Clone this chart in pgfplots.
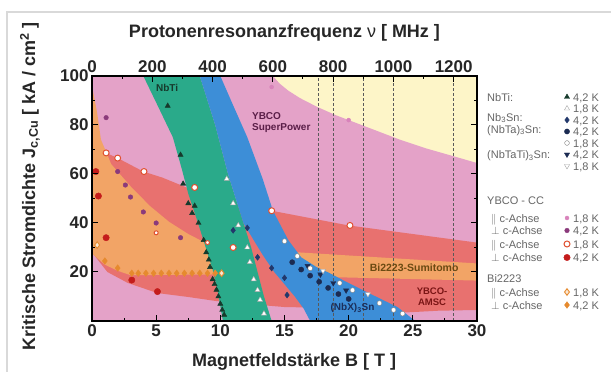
\documentclass[border=0pt]{standalone}
\usepackage{pgfplots}
\pgfplotsset{compat=1.18}
\usepackage{fontspec}
\setmainfont{Liberation Sans}
\definecolor{bgyellow}{HTML}{FDF5C8}
\definecolor{ybpink}{HTML}{E4A2C8}
\definecolor{ybred}{HTML}{E8716F}
\definecolor{biorange}{HTML}{F2A466}
\definecolor{nbtigreen}{HTML}{2AAA8A}
\definecolor{nbsnblue}{HTML}{3D8ED7}
\definecolor{cnbti}{HTML}{163A2C}
\definecolor{cnbsn}{HTML}{22386B}
\definecolor{cnbta}{HTML}{1B2B52}
\definecolor{cpink}{HTML}{D983BB}
\definecolor{cpurple}{HTML}{8B3A7B}
\definecolor{cred}{HTML}{C41C1C}
\definecolor{copen}{HTML}{E05030}
\definecolor{cbi}{HTML}{E68A2E}
\definecolor{txt}{HTML}{262626}
\definecolor{lblsp}{HTML}{5A1E48}
\definecolor{lblbi}{HTML}{6B4A12}
\definecolor{lblam}{HTML}{7A1515}
\definecolor{lblnb}{HTML}{1B2E5A}
\newcommand{\tickfont}{\fontsize{17}{17}\selectfont\bfseries}
\newcommand{\titlefont}{\fontsize{18}{18}\selectfont\bfseries}
\pgfplotsset{
  mNbTiA/.style={only marks, mark=triangle*, mark size=3pt, mark options={fill=cnbti, draw=cnbti}},
  mNbTiB/.style={only marks, mark=triangle*, mark size=3pt, mark options={fill=white, draw=black!35}},
  mNbSn/.style={only marks, mark=diamond*, mark size=3pt, mark options={fill=cnbsn, draw=cnbsn}},
  mNbTaA/.style={only marks, mark=*, mark size=2.6pt, mark options={fill=cnbta, draw=cnbta}},
  mNbTaB/.style={only marks, mark=*, mark size=2.4pt, mark options={fill=white, draw=black!50}},
  mNbTaTiA/.style={only marks, mark=triangle*, mark size=3pt, mark options={rotate=180, fill=cnbta, draw=cnbta}},
  mNbTaTiB/.style={only marks, mark=triangle*, mark size=3pt, mark options={rotate=180, fill=white, draw=black!35}},
  mYpink/.style={only marks, mark=*, mark size=2pt, mark options={fill=cpink, draw=cpink}},
  mYpurple/.style={only marks, mark=*, mark size=2.3pt, mark options={fill=cpurple, draw=cpurple}},
  mYopen/.style={only marks, mark=*, mark size=3pt, mark options={fill=white, draw=copen, line width=1pt}},
  mYred/.style={only marks, mark=*, mark size=3.2pt, mark options={fill=cred, draw=cred}},
  mBopen/.style={only marks, mark=diamond*, mark size=3.3pt, mark options={fill=white!80!cbi, draw=cbi, line width=0.9pt}},
  mBfill/.style={only marks, mark=diamond*, mark size=3.3pt, mark options={fill=cbi, draw=cbi}},
}
\begin{document}
\begin{tikzpicture}
\useasboundingbox (0,0) rectangle (611pt,372pt);
\fill[white] (0,0) rectangle (611pt,372pt);
\clip (0,0) rectangle (611pt,372pt);
\draw[black!15, line width=1.5pt] (7pt,-3pt) -- (7pt,360pt) -- (615pt,360pt);

\begin{axis}[
  at={(92pt,51pt)}, anchor=south west, scale only axis,
  width=385pt, height=245pt,
  xmin=0, xmax=30, ymin=0, ymax=100,
  axis background/.style={fill=bgyellow},
  axis on top, clip mode=individual,
  axis line style={line width=1.3pt, black},
  xtick={0,5,...,30}, ytick={20,40,60,80,100},
  minor x tick num=1, minor y tick num=1,
  xtick pos=left, ytick pos=both,
  tick align=inside, major tick length=6pt, minor tick length=3pt,
  every tick/.style={black, line width=1pt},
  /pgf/number format/assume math mode=true,
  ticklabel style={font=\tickfont, text=txt},
  xlabel={Magnetfeldstärke B [ T ]},
  xlabel style={at={(axis description cs:0.525,-0.167)}, anchor=center, font=\titlefont, text=txt},
  ylabel={Kritische Stromdichte J\textsubscript{c,Cu} [ kA / cm\textsuperscript{2} ]},
  ylabel style={at={(axis description cs:-0.161,0.55)}, anchor=center, rotate=0, font=\titlefont, text=txt},
]
% ---- regions ----
\addplot[fill=ybpink, draw=none] coordinates {
 (0,100) (14.1,100) (14.6,97) (15.3,94) (16.2,91) (17.5,87.5) (19,84) (20.5,81) (22,78)
 (24,74) (26,70.5) (28,67.5) (30,64.5) (30,0) (0,0)} -- cycle;
\addplot[fill=ybred, draw=none] coordinates {
 (0,76) (0.7,71) (1.1,68.6) (2,66.5) (4,61) (5.5,58.5) (6.9,55.5) (9,51) (11,48) (14,45)
 (17,42) (20,39) (25,35.5) (30,32) (30,4.5) (27,4.2) (24.5,3.5) (20,4.5) (17,5.5) (15,5.7)
 (12,7) (9.6,8.2) (7.5,9.8) (5.1,11.4) (2.8,15.5) (1.2,20) (0,28)} -- cycle;
\addplot[fill=biorange, draw=none] coordinates {
 (0,96) (0.4,85) (0.7,74) (1.5,64) (3,55) (4.5,47) (6,40.5) (7.5,35.5) (8.8,32) (9.3,27)
 (9.6,22) (9.8,19) (3,18.7) (2,20.5) (1,23) (0,27.5)} -- cycle;
\addplot[fill=biorange, draw=none] coordinates {
 (15.5,28.2) (30,23.5) (30,16.5) (15.5,18.3)} -- cycle;
\addplot[fill=nbtigreen, draw=none] coordinates {
 (4.0,100) (5.2,87) (6.3,75) (7.0,62) (7.5,52) (8.2,41) (8.8,31) (9.4,21) (9.8,12) (10.2,0)
 (14.0,0) (13.4,10) (12.9,20) (12.4,30) (11.8,40) (11.2,50) (10.6,60) (10.1,70) (9.6,80)
 (9.0,90) (8.4,100)} -- cycle;
\addplot[fill=nbsnblue, draw=none] coordinates {
 (8.4,100) (9.0,90) (9.6,80) (10.1,70) (10.6,60) (11.2,50) (11.8,40) (12.6,33) (13.3,27)
 (14.2,20) (15,15) (15.8,10) (16.5,5) (17,0) (25.2,0) (24.8,1.6) (23.8,5.7) (22.5,9)
 (21.1,12.6) (19.8,16) (18.5,19.6) (17.5,22) (16.3,26) (15.3,33) (14.1,45) (13.3,58)
 (12.1,75) (11,88) (10,100)} -- cycle;
% ---- frequency lines (750, 800, 900, 1000, 1200 MHz) ----
\pgfplotsinvokeforeach{17.615,18.789,21.138,23.487,28.184}{
  \addplot[black!65, line width=1pt, dash pattern=on 2.5pt off 2.5pt]
    coordinates {(#1,0) (#1,100)};
}
% ---- data ----
\addplot[mNbTiA] coordinates {
 (5.9,87.8) (6.9,67.8) (7.1,56) (7.5,48) (7.8,44) (8.0,47) (8.3,40) (8.7,33) (8.9,28)
 (9.1,25) (9.2,22) (9.4,17) (9.55,15) (9.7,12.7) (9.85,10) (10.0,7) (10.15,4.5) (10.3,2.5)};
\addplot[mNbTiB] coordinates {
 (10.5,58) (11,48) (11.4,39) (12.1,30) (12.3,24) (12.6,17) (12.9,12.6) (13.1,8.6) (13.4,3)};
\addplot[mNbSn] coordinates {
 (11,37) (12.1,38) (12.9,26) (14,21.6) (15,17.6) (15.2,10.6)};
\addplot[mNbTaA] coordinates {
 (15.6,24) (16.3,21) (17,18.5) (17.7,16) (18.4,13.5) (19.2,11) (20,9)};
\addplot[mNbTaTiA] coordinates {
 (16.8,22.5) (17.8,19) (18.8,15.5) (19.8,12.5)};
\addplot[mNbTaB] coordinates {
 (15,32.6) (16,26.5) (17,21.5) (19.3,15.5) (20.3,12.6) (22.4,7.3) (23.5,4.5) (24.2,3)};
\addplot[mNbTaTiB] coordinates {(18,20.5) (21.5,11)};
\addplot[mYpink] coordinates {(14,95.5) (20,82)};
\addplot[mYpurple] coordinates {
 (1.1,83) (2.0,61) (2.6,55.5) (3.0,50.6) (4.0,44.5) (5.0,40) (6.9,34)};
\addplot[mYopen] coordinates {
 (1.1,68.6) (2.0,66.5) (4.05,61) (8.0,54.5) (14,45) (20.1,39) (11,30)};
\addplot[mYopen, mark size=2pt] coordinates {(5,36) (9,32)};
\addplot[mYred] coordinates {(0.3,61) (0.5,51) (1.1,34) (3.1,16.7) (5.1,12)};
\addplot[mBopen] coordinates {(0.4,31) (10.1,19.5)};
\addplot[mBfill] coordinates {
 (1.0,24.5) (2.0,21.6) (3.1,19.5) (3.6,19.5) (4.2,19.5) (4.8,19.5) (5.4,19.5) (6.0,19.5)
 (6.6,19.5) (7.2,19.5) (7.8,19.5) (8.4,19.5) (9.0,19.5) (9.6,19.5)};
% ---- labels in plot ----
\node[font=\fontsize{10}{10}\selectfont\bfseries, text=cnbti] at (axis cs:5.85,95) {NbTi};
\node[font=\fontsize{10}{11}\selectfont\bfseries, text=lblsp, anchor=north west, align=left]
  at (axis cs:12.2,86.5) {YBCO\\SuperPower};
\node[font=\fontsize{10.5}{10.5}\selectfont\bfseries, text=lblbi] at (axis cs:25.1,21.6) {Bi2223-Sumitomo};
\node[font=\fontsize{9.5}{11}\selectfont\bfseries, text=lblam, align=center] at (axis cs:26.5,9.8) {YBCO-\\AMSC};
\node[font=\fontsize{10}{10}\selectfont\bfseries, text=lblnb] at (axis cs:20.3,5.3) {(NbX)\textsubscript{3}Sn};
\end{axis}

\begin{axis}[
  at={(92pt,51pt)}, anchor=south west, scale only axis,
  width=385pt, height=245pt,
  xmin=0, xmax=1277.31, ymin=0, ymax=100,
  axis x line*=top, axis y line=none,
  axis line style={line width=1.3pt, black},
  xtick={0,200,...,1200}, minor x tick num=1,
  tick align=inside, major tick length=6pt, minor tick length=3pt,
  every tick/.style={black, line width=1pt},
  /pgf/number format/assume math mode=true,
  /pgf/number format/1000 sep={},
  ticklabel style={font=\tickfont, text=txt},
  xlabel={Protonenresonanzfrequenz {\mdseries ν} [ MHz ]},
  xlabel style={at={(axis description cs:0.5,1.176)}, anchor=center, font=\titlefont, text=txt},
]
\end{axis}

% ---- legend keys (in a picture-sized axis, pt units) ----
\begin{axis}[
  at={(0pt,0pt)}, anchor=south west, scale only axis,
  width=611pt, height=372pt,
  xmin=0, xmax=611, ymin=0, ymax=372,
  hide axis, clip=false,
]
\addplot[mNbTiA]   coordinates {(567,275)};
\addplot[mNbTiB]   coordinates {(567,263.5)};
\addplot[mNbSn]    coordinates {(567,252)};
\addplot[mNbTaA]   coordinates {(567,240.5)};
\addplot[mNbTaB]   coordinates {(567,229)};
\addplot[mNbTaTiA] coordinates {(567,217.5)};
\addplot[mNbTaTiB] coordinates {(567,206)};
\addplot[mYpink]   coordinates {(567,154)};
\addplot[mYpurple] coordinates {(567,141.5)};
\addplot[mYopen]   coordinates {(567,128)};
\addplot[mYred]    coordinates {(567,114.5)};
\addplot[mBopen]   coordinates {(567,80)};
\addplot[mBfill]   coordinates {(567,67)};
\end{axis}

% ---- legend texts ----
\begin{scope}[every node/.style={anchor=base west, font=\fontsize{11}{11}\selectfont, text=black!60, inner sep=0pt}]
\node at (487pt,270.9pt) {NbTi:};
\node at (487pt,250.9pt) {Nb\textsubscript{3}Sn:};
\node at (487pt,238.9pt) {(NbTa)\textsubscript{3}Sn:};
\node at (487pt,213.4pt) {(NbTaTi)\textsubscript{3}Sn:};
\node at (487pt,167.4pt) {YBCO - CC};
\node at (491pt,149.9pt) {$\parallel$ c-Achse};
\node at (491pt,137.4pt) {$\perp$ c-Achse};
\node at (491pt,123.9pt) {$\parallel$ c-Achse};
\node at (491pt,110.4pt) {$\perp$ c-Achse};
\node at (487pt,89.9pt) {Bi2223};
\node at (491pt,75.9pt) {$\parallel$ c-Achse};
\node at (491pt,62.9pt) {$\perp$ c-Achse};
\node at (573pt,270.9pt) {4,2 K};
\node at (573pt,259.4pt) {1,8 K};
\node at (573pt,247.9pt) {4,2 K};
\node at (573pt,236.4pt) {4,2 K};
\node at (573pt,224.9pt) {1,8 K};
\node at (573pt,213.4pt) {4,2 K};
\node at (573pt,201.9pt) {1,8 K};
\node at (573pt,149.9pt) {1,8 K};
\node at (573pt,137.4pt) {4,2 K};
\node at (573pt,123.9pt) {1,8 K};
\node at (573pt,110.4pt) {4,2 K};
\node at (573pt,75.9pt) {1,8 K};
\node at (573pt,62.9pt) {4,2 K};
\end{scope}
\end{tikzpicture}
\end{document}
